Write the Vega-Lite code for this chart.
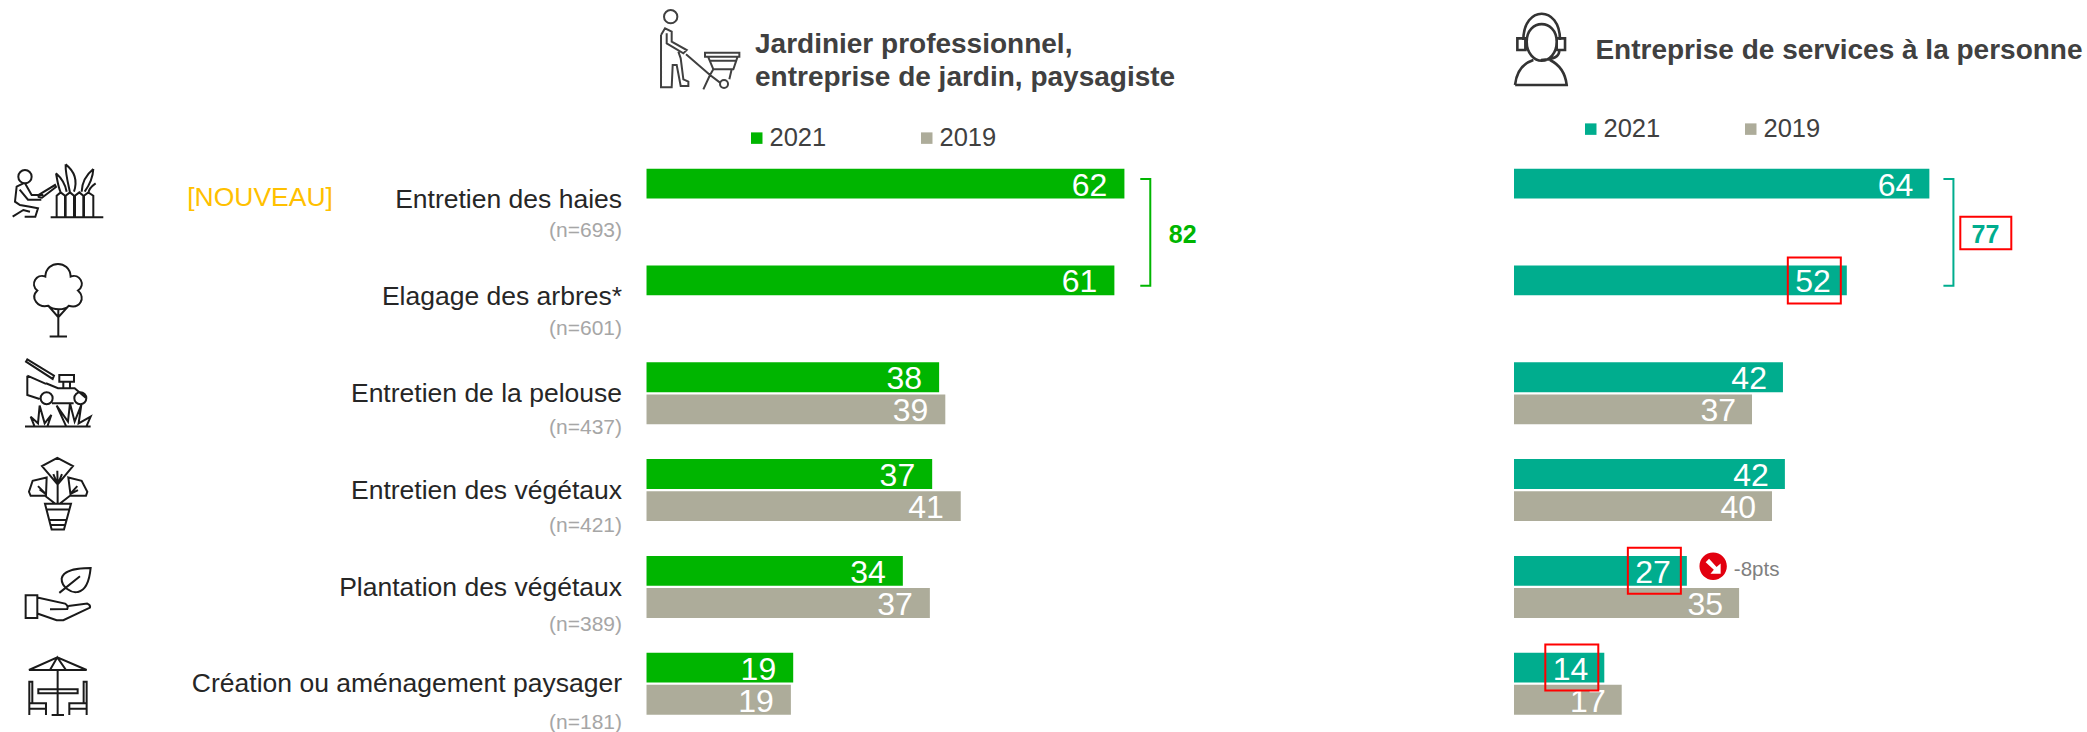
{
"$schema":"https://vega.github.io/schema/vega-lite/v6.json",
"padding":0,
"background":"white",
"spacing":-5,
"config":{"view":{"stroke":null},"text":{"font":"Liberation Sans"},"legend":{"labelFont":"Liberation Sans"}},
"datasets":{
"categories":[
{"cat":"Entretien des haies","n":"(n=693)","note":"[NOUVEAU]"},
{"cat":"Elagage des arbres*","n":"(n=601)"},
{"cat":"Entretien de la pelouse","n":"(n=437)"},
{"cat":"Entretien des végétaux","n":"(n=421)"},
{"cat":"Plantation des végétaux","n":"(n=389)"},
{"cat":"Création ou aménagement paysager","n":"(n=181)"}
],
"jardinier":[
{"cat":"Entretien des haies","year":"2021","value":61.9,"label":62},
{"cat":"Elagage des arbres*","year":"2021","value":60.6,"label":61},
{"cat":"Entretien de la pelouse","year":"2021","value":37.9,"label":38},
{"cat":"Entretien de la pelouse","year":"2019","value":38.7,"label":39},
{"cat":"Entretien des végétaux","year":"2021","value":37,"label":37},
{"cat":"Entretien des végétaux","year":"2019","value":40.7,"label":41},
{"cat":"Plantation des végétaux","year":"2021","value":33.2,"label":34},
{"cat":"Plantation des végétaux","year":"2019","value":36.7,"label":37},
{"cat":"Création ou aménagement paysager","year":"2021","value":19,"label":19},
{"cat":"Création ou aménagement paysager","year":"2019","value":18.7,"label":19}
],
"services":[
{"cat":"Entretien des haies","year":"2021","value":64.4,"label":64},
{"cat":"Elagage des arbres*","year":"2021","value":51.6,"label":52,"encadre":true},
{"cat":"Entretien de la pelouse","year":"2021","value":41.7,"label":42},
{"cat":"Entretien de la pelouse","year":"2019","value":36.9,"label":37},
{"cat":"Entretien des végétaux","year":"2021","value":42,"label":42},
{"cat":"Entretien des végétaux","year":"2019","value":40,"label":40},
{"cat":"Plantation des végétaux","year":"2021","value":26.8,"label":27,"encadre":true,"evol":"-8pts"},
{"cat":"Plantation des végétaux","year":"2019","value":34.9,"label":35},
{"cat":"Création ou aménagement paysager","year":"2021","value":14,"label":14,"encadre":true},
{"cat":"Création ou aménagement paysager","year":"2019","value":16.7,"label":17}
]
},
"hconcat":[
{
"width":1514,"height":732,
"layer":[
{"layer":[
{"data":{"name":"jardinier"},"mark":{"type":"bar"},
 "encoding":{
 "x":{"field":"value","type":"quantitative","axis":null,"scale":{"domain":[-83.74,112.36],"zero":false,"nice":false}},
 "y":{"field":"cat","type":"nominal","axis":null,"sort":null,"scale":{"domain":["en-tête","Entretien des haies","Elagage des arbres*","Entretien de la pelouse","Entretien des végétaux","Plantation des végétaux","Création ou aménagement paysager"],"paddingInner":0.3595,"paddingOuter":0.4607,"align":0.806}},
 "yOffset":{"field":"year","type":"nominal","scale":{"domain":["2021","2019"],"paddingInner":0.0715,"paddingOuter":0}},
 "color":{"field":"year","type":"nominal","scale":{"domain":["2021","2019"],"range":["#00B500","#ADAC9A"]},
  "legend":{"orient":"none","legendX":744,"legendY":125,"direction":"horizontal","columns":2,"title":null,"symbolType":"square","symbolSize":132,"symbolStrokeWidth":0,"symbolOpacity":1,"labelFontSize":25.5,"labelColor":"#404040","labelOffset":0,"columnPadding":87,"padding":0}}}},
{"data":{"name":"jardinier"},"mark":{"type":"text","align":"right","baseline":"middle","dx":-17,"dy":2,"fontSize":32,"color":"white"},
 "encoding":{"x":{"field":"value","type":"quantitative","axis":null},"y":{"field":"cat","type":"nominal","axis":null,"sort":null},"yOffset":{"field":"year","type":"nominal","scale":{"domain":["2021","2019"],"paddingInner":0.0715,"paddingOuter":0}},"text":{"field":"label","type":"nominal"}}},
{"data":{"name":"categories"},"mark":{"type":"text","align":"right","baseline":"alphabetic","dy":8.7,"fontSize":26.5,"color":"#262626"},
 "encoding":{"x":{"datum":-3.17,"type":"quantitative","axis":null},"y":{"field":"cat","type":"nominal","axis":null,"sort":null},"text":{"field":"cat","type":"nominal"}}},
{"data":{"name":"categories"},"transform":[{"filter":"isValid(datum.note)"}],"mark":{"type":"text","align":"left","baseline":"alphabetic","dy":6,"fontSize":26.5,"color":"#FFC000"},
 "encoding":{"x":{"datum":-59.5,"type":"quantitative","axis":null},"y":{"field":"cat","type":"nominal","axis":null,"sort":null},"text":{"field":"note","type":"nominal"}}},
{"data":{"name":"categories"},"mark":{"type":"point","filled":false,"opacity":1,"size":0.4444,"stroke":"#1a1a1a","strokeWidth":2},
 "encoding":{"x":{"datum":-76.23,"type":"quantitative","axis":null},"y":{"field":"cat","type":"nominal","axis":null,"sort":null},
 "shape":{"field":"cat","type":"nominal","legend":null,"scale":{"domain":["Entretien des haies","Elagage des arbres*","Entretien de la pelouse","Entretien des végétaux","Plantation des végétaux","Création ou aménagement paysager"],"range":[
 "M-22,53 H136 M-4,53 V-12 L8,-22 L21,-12 V53 M23,53 V-12 L36,-22 L48,-12 V53 M51,53 V-12 L64,-22 L76,-12 V53 M78,53 V-12 L91,-22 L106,-12 V53 M-6,-79 C10,-65 22,-45 26,-24 M23,-106 C50,-85 60,-60 48,-24 M106,-92 C85,-75 72,-50 71,-24 M113,-49 C100,-40 92,-32 91,-19 M-6,-79 C-2,-60 0,-40 8,-22 M23,-106 C22,-80 30,-50 36,-22 M106,-92 C105,-70 95,-45 80,-24 M-119,-69 A20,20 0 1 1 -79,-69 A20,20 0 1 1 -119,-69 Z M-104,-49 L-124,-39 L-129,6 L-114,16 L-84,21 L-60,26 L-68,51 L-100,51 M-136,51 L-104,31 L-84,36 M-99,-49 L-79,-14 L-44,-14 M-115,-30 L-90,0 L-50,0 M-59,-14 L-9,-44 L-6,-38 L-48,-6 L-58,-8 Z",
 "M-29,28 C-60,35 -85,5 -62,-18 C-85,-35 -65,-70 -38,-60 C-35,-110 35,-110 38,-60 C65,-70 85,-35 60,-18 C85,5 65,38 32,28 C20,42 -15,42 -29,28 Z M1,62 V120 M-25,120 H27 M-29,28 L1,62 L32,28 M1,62 V35",
 "M-96,-95 L-92,-102 L-12,-53 L-16,-43 Z M-92,-53 V5 L-55,17 M-92,-53 L-36,-28 M-36,-30 L0,-15 L50,-15 L85,15 M-18,30 H47 M-52,15 A18,18 0 1 1 -16,15 A18,18 0 1 1 -52,15 Z M49,15 A18,18 0 1 1 85,15 A18,18 0 1 1 49,15 Z M4,-55 H48 V-35 H4 Z M16,-35 V-15 M36,-35 V-15 M-99,100 H98 M-70,100 L-82,70 L-60,90 L-55,37 L-40,90 L-20,65 L-32,100 M25,100 L-4,37 L30,85 L36,30 L50,85 L70,35 L62,90 L98,70 L85,100",
 "M-2,-97 L-48,-72 L-1,-17 L45,-72 Z M-1,40 V-17 M-2,-58 L-1,-17 M-14,-48 L-1,-17 M12,-48 L-1,-17 M-34,-38 L-76,-28 L-87,5 L-82,17 L-36,17 Z M-36,12 L-60,-12 M-36,12 L-55,-2 M31,-38 L71,-28 L88,5 L84,17 L38,17 Z M36,12 L58,-12 M36,12 L60,0 M-39,17 L-9,40 M36,17 L6,40 M-39,41 L39,41 L18,118 L-19,118 Z M-35,58 H35 M-26,90 H26 M-22,105 H22",
 "M-97,25 H-62 V93 H-97 Z M-62,32 L21,50 Q32,58 28,66 L-24,67 M31,57 L88,50 Q98,54 96,62 L16,100 L-4,100 L-62,80 M98,-57 C60,-57 15,-50 11,-25 C10,0 40,20 60,15 C85,10 95,-25 98,-57 Z M4,18 L66,-32",
 "M-87,-41 L-2,-79 L86,-41 Z M-24,-41 L-2,-79 L24,-41 M-1,-41 V94 M-19,94 H18 M-59,17 H59 V29 H-59 Z M-86,94 V-6 H-77 V59 M-86,59 H-36 V94 M-86,75 H-36 M86,94 V-6 H77 V59 M86,59 H34 V94 M86,75 H34"
 ]}}}},
{"data":{"values":[{"titre":"Jardinier professionnel,\nentreprise de jardin, paysagiste"}]},"mark":{"type":"text","align":"left","baseline":"alphabetic","dy":-50.2,"lineBreak":"\n","lineHeight":33.3,"fontSize":28,"fontWeight":"bold","color":"#404040"},
 "encoding":{"x":{"datum":14.05,"type":"quantitative","axis":null},"y":{"datum":"en-tête","type":"nominal","axis":null},"text":{"field":"titre","type":"nominal"}}},
{"data":{"values":[{"icone":"jardinier"}]},"mark":{"type":"point","filled":false,"opacity":1,"size":0.4444,"stroke":"#404040","strokeWidth":2,"shape":"M-108,-100 A20,20 0 1 1 -68,-100 A20,20 0 1 1 -108,-100 Z M-117,-45 V112 H-85 L-82,45 H-70 L-58,108 H-35 V95 L-50,88 L-58,25 L-65,5 M-100,-50 V-20 L-50,10 L-40,0 L-85,-25 V-55 L-105,-65 L-117,-45 M-42,13 L30,75 M15,8 H118 V20 H15 Z M25,22 L40,58 H100 L112,22 M28,32 H108 M30,75 L10,118 M40,58 L30,75 L60,98 M60,102 A12,12 0 1 1 84,102 A12,12 0 1 1 60,102 Z M95,58 L88,88"},
 "encoding":{"x":{"datum":6.93,"type":"quantitative","axis":null},"y":{"datum":"en-tête","type":"nominal","axis":null,"bandPosition":-0.353}}},
{"data":{"values":[{"total":82}]},"mark":{"type":"text","align":"center","baseline":"alphabetic","dy":43,"fontSize":25,"fontWeight":"bold","color":"#00B500"},
 "encoding":{"x":{"datum":69.45,"type":"quantitative","axis":null},"y":{"datum":"Entretien des haies","type":"nominal","axis":null},"text":{"field":"total","type":"nominal"}}},
{"data":{"values":[{"groupe":"Entretien des haies + Elagage"}]},"mark":{"type":"point","filled":false,"opacity":1,"size":4,"stroke":"#00B500","strokeWidth":2,"shape":"M-10,-20.7 H0 V86 H-10"},
 "encoding":{"x":{"datum":65.25,"type":"quantitative","axis":null},"y":{"datum":"Entretien des haies","type":"nominal","axis":null}}}
]},
{"data":{"name":"categories"},"mark":{"type":"text","align":"right","baseline":"alphabetic","dy":60.55,"fontSize":21,"color":"#A6A6A6"},
 "encoding":{"x":{"datum":-3.17,"type":"quantitative","axis":null},"y":{"field":"cat","type":"nominal","axis":null,"sort":null,"scale":{"type":"band","domain":["Entretien des haies","Elagage des arbres*","Entretien de la pelouse","Entretien des végétaux","Plantation des végétaux","Création ou aménagement paysager"],"paddingInner":0,"paddingOuter":0.7157,"align":0.9}},"text":{"field":"n","type":"nominal"}}}
],
"resolve":{"scale":{"y":"independent"}}
},
{
"width":573,"height":732,
"layer":[
{"data":{"name":"services"},"mark":{"type":"bar"},
 "encoding":{
 "x":{"field":"value","type":"quantitative","axis":null,"scale":{"domain":[0,88.84],"zero":false,"nice":false}},
 "y":{"field":"cat","type":"nominal","axis":null,"sort":null,"scale":{"domain":["en-tête","Entretien des haies","Elagage des arbres*","Entretien de la pelouse","Entretien des végétaux","Plantation des végétaux","Création ou aménagement paysager"],"paddingInner":0.3595,"paddingOuter":0.4607,"align":0.806}},
 "yOffset":{"field":"year","type":"nominal","scale":{"domain":["2021","2019"],"paddingInner":0.0715,"paddingOuter":0}},
 "color":{"field":"year","type":"nominal","scale":{"domain":["2021","2019"],"range":["#00AD8E","#ADAC9A"]},
  "legend":{"orient":"none","legendX":64,"legendY":116,"direction":"horizontal","columns":2,"title":null,"symbolType":"square","symbolSize":132,"symbolStrokeWidth":0,"symbolOpacity":1,"labelFontSize":25.5,"labelColor":"#404040","labelOffset":0,"columnPadding":77,"padding":0}}}},
{"data":{"name":"services"},"mark":{"type":"text","align":"right","baseline":"middle","dx":-16,"dy":2,"fontSize":32,"color":"white"},
 "encoding":{"x":{"field":"value","type":"quantitative","axis":null},"y":{"field":"cat","type":"nominal","axis":null,"sort":null},"yOffset":{"field":"year","type":"nominal","scale":{"domain":["2021","2019"],"paddingInner":0.0715,"paddingOuter":0}},"text":{"field":"label","type":"nominal"}}},
{"data":{"name":"services"},"transform":[{"filter":"datum.encadre === true"}],"mark":{"type":"point","filled":false,"opacity":1,"size":4,"stroke":"#FF0000","strokeWidth":2,"shape":"M-59,-23 H-6 V23 H-59 Z"},
 "encoding":{"x":{"field":"value","type":"quantitative","axis":null},"y":{"field":"cat","type":"nominal","axis":null,"sort":null},"yOffset":{"field":"year","type":"nominal","scale":{"domain":["2021","2019"],"paddingInner":0.0715,"paddingOuter":0}}}},
{"data":{"name":"services"},"transform":[{"filter":"isValid(datum.evol)"}],"mark":{"type":"point","filled":true,"opacity":1,"size":4,"fill":"#E2000F","strokeWidth":0,"shape":"M12.6,-4.5 A13.7,13.7 0 1 1 40,-4.5 A13.7,13.7 0 1 1 12.6,-4.5 Z M33.8,3 L33.8,-7.2 L29.7,-3.8 L22.2,-12 L18.8,-8.6 L27,-1.1 L23.6,3 Z"},
 "encoding":{"x":{"field":"value","type":"quantitative","axis":null},"y":{"field":"cat","type":"nominal","axis":null,"sort":null},"yOffset":{"field":"year","type":"nominal","scale":{"domain":["2021","2019"],"paddingInner":0.0715,"paddingOuter":0}}}},
{"data":{"name":"services"},"transform":[{"filter":"isValid(datum.evol)"}],"mark":{"type":"text","align":"left","baseline":"alphabetic","dx":47,"dy":5.5,"fontSize":20.5,"color":"#808080"},
 "encoding":{"x":{"field":"value","type":"quantitative","axis":null},"y":{"field":"cat","type":"nominal","axis":null,"sort":null},"yOffset":{"field":"year","type":"nominal","scale":{"domain":["2021","2019"],"paddingInner":0.0715,"paddingOuter":0}},"text":{"field":"evol","type":"nominal"}}},
{"data":{"values":[{"titre":"Entreprise de services à la personne"}]},"mark":{"type":"text","align":"left","baseline":"alphabetic","dy":-43.6,"fontSize":28,"fontWeight":"bold","color":"#404040"},
 "encoding":{"x":{"datum":12.62,"type":"quantitative","axis":null},"y":{"datum":"en-tête","type":"nominal","axis":null},"text":{"field":"titre","type":"nominal"}}},
{"data":{"values":[{"icone":"casque"}]},"mark":{"type":"point","filled":false,"opacity":1,"size":0.4444,"stroke":"#333333","strokeWidth":2.6,"shape":"M-78,105 H77 C72,60 47,40 27,30 M-78,105 C-73,60 -53,40 -23,30 M-43,-25 C-43,-95 47,-95 47,-25 C47,10 25,32 2,32 C-20,32 -43,10 -43,-25 Z M-53,-30 C-53,-135 57,-135 57,-30 M-71,-35 H-47 V0 H-71 Z M47,-35 H72 V0 H47 Z M55,0 C55,20 40,28 0,30"},
 "encoding":{"x":{"datum":4.19,"type":"quantitative","axis":null},"y":{"datum":"en-tête","type":"nominal","axis":null,"bandPosition":-0.353}}},
{"data":{"values":[{"total":77}]},"mark":{"type":"text","align":"center","baseline":"alphabetic","dy":43,"fontSize":25,"fontWeight":"bold","color":"#00AD8E"},
 "encoding":{"x":{"datum":73.1,"type":"quantitative","axis":null},"y":{"datum":"Entretien des haies","type":"nominal","axis":null},"text":{"field":"total","type":"nominal"}}},
{"data":{"values":[{"groupe":"total encadré"}]},"mark":{"type":"point","filled":false,"opacity":1,"size":4,"stroke":"#FF0000","strokeWidth":2,"shape":"M-25.5,17 H25.5 V49.6 H-25.5 Z"},
 "encoding":{"x":{"datum":73.15,"type":"quantitative","axis":null},"y":{"datum":"Entretien des haies","type":"nominal","axis":null}}},
{"data":{"values":[{"groupe":"Entretien des haies + Elagage"}]},"mark":{"type":"point","filled":false,"opacity":1,"size":4,"stroke":"#00AD8E","strokeWidth":2,"shape":"M-10,-20.7 H0 V86 H-10"},
 "encoding":{"x":{"datum":68.13,"type":"quantitative","axis":null},"y":{"datum":"Entretien des haies","type":"nominal","axis":null}}}
]
}
],
"resolve":{"scale":{"color":"independent"},"legend":{"color":"independent"}}
}
